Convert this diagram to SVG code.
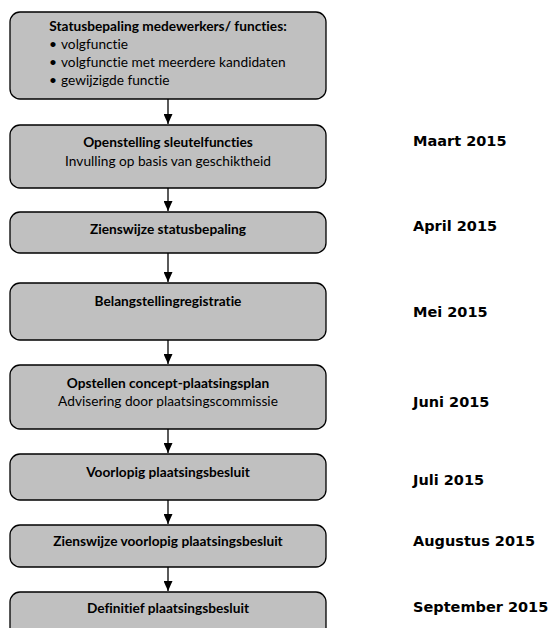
<svg xmlns="http://www.w3.org/2000/svg" width="550" height="628" viewBox="0 0 550 628">
<style>
.box{fill:#c0c0c0;stroke:#000;stroke-width:1.3}
.t{font-family:Lato,"Open Sans",sans-serif;font-size:13.7px;fill:#000;text-anchor:middle;font-variant-ligatures:none}
.b{font-weight:bold}
.l{text-anchor:start}
.d{font-family:"DejaVu Sans",Verdana,sans-serif;font-weight:bold;font-size:14.5px;fill:#000}
.c{stroke:#000;stroke-width:1.3;fill:none}
</style>
<defs>
<marker id="ah" markerWidth="10" markerHeight="9" refX="10" refY="4.5" orient="auto" markerUnits="userSpaceOnUse">
<path d="M0,0 L10,4.5 L0,9 Z" fill="#000"/>
</marker>
</defs>
<rect width="550" height="628" fill="#fff"/>
<g id="connectors">
<line class="c" x1="168" y1="99" x2="168" y2="124" marker-end="url(#ah)"/>
<line class="c" x1="168" y1="188" x2="168" y2="211" marker-end="url(#ah)"/>
<line class="c" x1="168" y1="253" x2="168" y2="282" marker-end="url(#ah)"/>
<line class="c" x1="168" y1="340" x2="168" y2="364" marker-end="url(#ah)"/>
<line class="c" x1="168" y1="429" x2="168" y2="453" marker-end="url(#ah)"/>
<line class="c" x1="168" y1="500" x2="168" y2="524" marker-end="url(#ah)"/>
<line class="c" x1="168" y1="567" x2="168" y2="591" marker-end="url(#ah)"/>
</g>
<g id="n1">
<rect class="box" x="10" y="12" width="316" height="87" rx="10"/>
<text class="t b" x="168" y="31">Statusbepaling medewerkers/ functies:</text>
<text class="t l" x="49" y="49">•</text><text class="t l" x="61" y="49">volgfunctie</text>
<text class="t l" x="49" y="67">•</text><text class="t l" x="61" y="67">volgfunctie met meerdere kandidaten</text>
<text class="t l" x="49" y="85">•</text><text class="t l" x="61" y="85">gewijzigde functie</text>
</g>
<g id="n2">
<rect class="box" x="10" y="125" width="316" height="63" rx="10"/>
<text class="t b" x="168" y="147">Openstelling sleutelfuncties</text>
<text class="t" x="168" y="166">Invulling op basis van geschiktheid</text>
</g>
<g id="n3">
<rect class="box" x="10" y="212" width="316" height="41" rx="10"/>
<text class="t b" x="168" y="234">Zienswijze statusbepaling</text>
</g>
<g id="n4">
<rect class="box" x="10" y="283" width="316" height="57" rx="10"/>
<text class="t b" x="168" y="306">Belangstellingregistratie</text>
</g>
<g id="n5">
<rect class="box" x="10" y="365" width="316" height="64" rx="10"/>
<text class="t b" x="168" y="388">Opstellen concept-plaatsingsplan</text>
<text class="t" x="168" y="406">Advisering door plaatsingscommissie</text>
</g>
<g id="n6">
<rect class="box" x="10" y="454" width="316" height="46" rx="10"/>
<text class="t b" x="168" y="477">Voorlopig plaatsingsbesluit</text>
</g>
<g id="n7">
<rect class="box" x="10" y="525" width="316" height="42" rx="10"/>
<text class="t b" x="168" y="546">Zienswijze voorlopig plaatsingsbesluit</text>
</g>
<g id="n8">
<rect class="box" x="10" y="592" width="316" height="60" rx="10"/>
<text class="t b" x="168" y="613">Definitief plaatsingsbesluit</text>
</g>
<g id="dates">
<text class="d" x="413" y="146">Maart 2015</text>
<text class="d" x="413" y="231">April 2015</text>
<text class="d" x="413" y="317">Mei 2015</text>
<text class="d" x="413" y="407">Juni 2015</text>
<text class="d" x="413" y="485">Juli 2015</text>
<text class="d" x="413" y="546">Augustus 2015</text>
<text class="d" x="413" y="612">September 2015</text>
</g>
</svg>
